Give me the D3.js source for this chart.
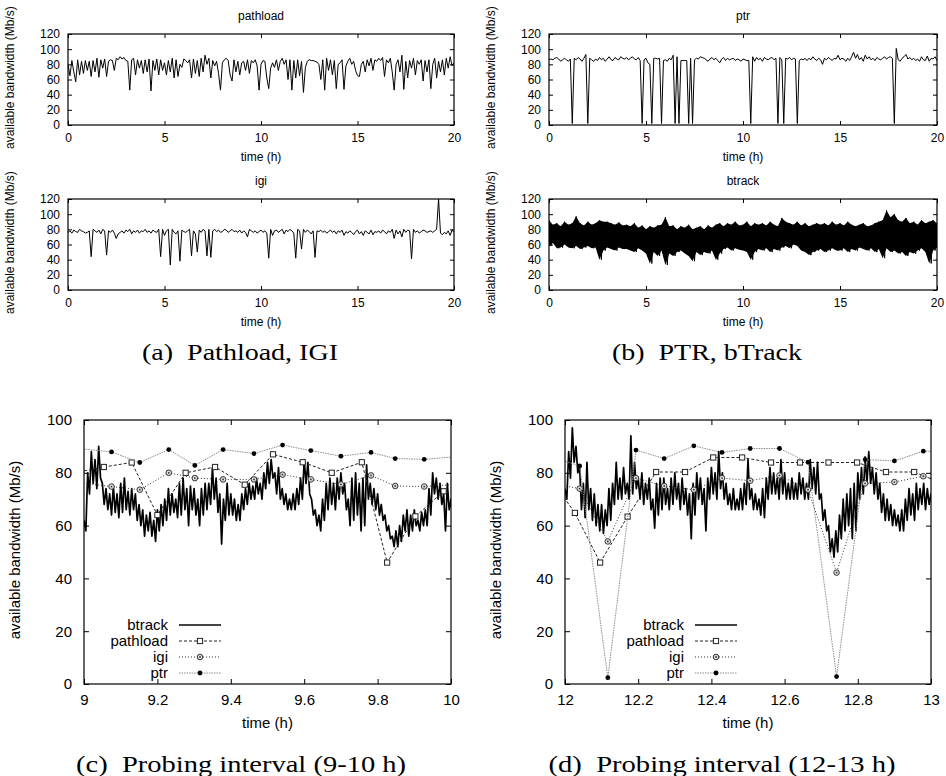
<!DOCTYPE html>
<html>
<head>
<meta charset="utf-8">
<script src="https://cdn.jsdelivr.net/npm/d3@7"></script>
<style>
  body { margin: 0; background: #fff; }
  svg text { font-family: "Liberation Sans", Arial, Helvetica, sans-serif; fill: #000; }
  svg text.caption { font-family: "Liberation Serif", "Times New Roman", serif; }
</style>
</head>
<body>
<svg id="chart" width="946" height="776"></svg>
<script>
// ---- overview data: one value every 0.1 h, one row per hour (0..19), last value at 20 h
const pathloadTop = [
  80, 65, 85, 70, 57, 86, 66, 84, 68, 85,
  72, 84, 64, 85, 70, 88, 63, 86, 75, 87,
  64, 84, 86, 85, 72, 88, 86, 90, 87, 89,
  85, 84, 46, 86, 88, 66, 86, 75, 85, 68,
  86, 70, 87, 45, 85, 72, 87, 66, 86, 72,
  82, 66, 85, 70, 88, 62, 86, 64, 80, 76,
  87, 85, 82, 86, 62, 87, 68, 85, 64, 88,
  70, 92, 80, 88, 62, 85, 78, 84, 68, 46,
  82, 86, 88, 85, 66, 58, 86, 70, 84, 66,
  82, 84, 72, 86, 68, 85, 82, 86, 78, 46,
  80, 85, 84, 62, 48, 75, 82, 76, 86, 72,
  84, 88, 80, 86, 60, 86, 46, 85, 62, 86,
  65, 84, 43, 76, 84, 86, 85, 85, 84, 83,
  80, 60, 86, 46, 88, 72, 86, 66, 85, 48,
  80, 82, 86, 47, 78, 84, 88, 80, 84, 72,
  65, 64, 80, 84, 70, 86, 78, 88, 72, 86,
  84, 88, 85, 89, 64, 86, 82, 88, 70, 46,
  80, 86, 70, 92, 47, 84, 62, 85, 75, 88,
  66, 85, 80, 86, 58, 85, 70, 86, 48, 80,
  88, 62, 84, 70, 86, 66, 88, 75, 90, 78,
  82
];
const ptrTop = [
  86, 87, 86, 88, 89, 87, 84, 86, 88, 86,
  84, 87, 2, 88, 86, 89, 87, 84, 88, 93,
  2, 88, 86, 84, 87, 85, 89, 86, 88, 84,
  87, 90, 86, 85, 89, 87, 86, 90, 88, 87,
  89, 86, 88, 90, 87, 86, 89, 85, 2, 86,
  88, 82, 80, 2, 88, 88, 87, 88, 2, 85,
  86, 84, 88, 86, 92, 2, 90, 2, 85, 85,
  85, 85, 2, 88, 2, 86, 88, 87, 90, 89,
  88, 86, 84, 87, 89, 86, 88, 85, 82, 87,
  89, 85, 88, 86, 87, 88, 85, 87, 86, 84,
  87, 86, 85, 85, 2, 90, 84, 89, 86, 88,
  84, 89, 87, 86, 88, 89, 86, 88, 2, 89,
  86, 2, 88, 87, 89, 86, 88, 87, 2, 85,
  87, 86, 88, 85, 88, 86, 90, 87, 85, 88,
  86, 80, 88, 86, 89, 87, 85, 88, 87, 92,
  86, 88, 87, 84, 88, 85, 90, 96, 88, 93,
  86, 89, 84, 92, 87, 90, 86, 88, 85, 89,
  87, 86, 88, 90, 87, 89, 90, 88, 2, 101,
  86, 84, 88, 90, 93, 87, 89, 86, 88, 85,
  87, 84, 90, 86, 85, 91, 84, 88, 87, 90,
  85
];
const igiTop = [
  76, 78, 75, 79, 77, 76, 80, 78, 77, 75,
  76, 78, 44, 80, 78, 76, 79, 74, 80, 78,
  46, 78, 76, 79, 75, 68, 74, 76, 78, 75,
  79, 77, 80, 74, 78, 76, 79, 75, 78, 77,
  80, 76, 78, 75, 79, 77, 76, 80, 44, 80,
  72, 78, 80, 33, 80, 76, 74, 78, 38, 79,
  77, 76, 78, 80, 45, 78, 74, 50, 79, 76,
  80, 78, 45, 80, 43, 78, 80, 77, 79, 76,
  77, 80, 79, 76, 78, 80, 77, 78, 76, 79,
  75, 78, 76, 70, 80, 78, 76, 78, 75, 77,
  79, 76, 78, 75, 42, 80, 72, 78, 79, 76,
  78, 80, 74, 79, 77, 80, 78, 75, 42, 80,
  78, 54, 80, 76, 79, 77, 74, 78, 43, 78,
  77, 79, 76, 78, 75, 77, 79, 76, 78, 74,
  78, 76, 79, 72, 77, 75, 78, 76, 73, 77,
  79, 74, 77, 72, 78, 76, 74, 79, 73, 77,
  76, 78, 75, 79, 77, 74, 78, 76, 80, 68,
  79, 74, 78, 70, 80, 76, 79, 78, 41, 80,
  76, 78, 75, 77, 79, 78, 76, 77, 78, 76,
  78, 80, 120, 75, 73, 76, 74, 78, 72, 79,
  76
];
// btrack overview: highest / lowest sample in each 0.2 h bin, one row per 4 hours
const btrackTopHi = [
  92, 86, 88, 84, 90,   86, 88, 97, 88, 85,   90, 86, 88, 92, 90,   90, 88, 86, 89, 85,
  86, 84, 88, 82, 85,   80, 84, 82, 85, 86,   96, 84, 85, 80, 84,   82, 86, 80, 82, 84,
  80, 85, 82, 86, 88,   84, 88, 86, 90, 85,   86, 90, 84, 88, 86,   88, 85, 90, 86, 84,
  95, 90, 88, 86, 90,   85, 88, 84, 86, 88,   86, 88, 85, 90, 86,   88, 85, 90, 86, 84,
  86, 88, 84, 85, 88,   90, 92, 105, 96, 100, 92, 90, 95, 88, 90,   86, 92, 88, 90, 92,
  88
];
const btrackTopLo = [
  58, 62, 55, 56, 60,   56, 55, 58, 54, 56,   58, 55, 56, 40, 52,   56, 54, 52, 56, 54,
  54, 52, 50, 55, 52,   48, 35, 50, 45, 52,   33, 48, 45, 50, 52,   48, 45, 38, 50, 46,
  50, 48, 52, 40, 48,   54, 56, 52, 55, 53,   52, 50, 40, 50, 54,   52, 55, 50, 54, 52,
  56, 58, 55, 60, 58,   52, 50, 46, 50, 52,   54, 50, 52, 55, 52,   52, 55, 50, 54, 52,
  56, 54, 52, 55, 50,   54, 42, 55, 50, 52,   48, 50, 45, 50, 48,   52, 55, 50, 35, 52,
  56
];
const hourTicks = [0, 5, 10, 15, 20];
const bwTicksTop = [0, 20, 40, 60, 80, 100, 120];

// ---- probing interval 9-10 h
// btrack: highest / lowest sample in each 0.01 h bin, one row per 0.1 h
const btrackCHi = [
  62, 80, 88, 85, 90, 76, 74, 72, 75, 72,
  76, 78, 73, 74, 72, 68, 66, 64, 65, 62,
  66, 68, 70, 74, 72, 70, 76, 78, 74, 75,
  74, 70, 74, 76, 76, 82, 78, 72, 70, 76,
  72, 70, 68, 72, 74, 76, 75, 78, 76, 80,
  84, 85, 80, 82, 74, 72, 70, 72, 74, 78,
  85, 84, 70, 66, 64, 70, 76, 78, 76, 78,
  80, 76, 70, 78, 80, 76, 78, 83, 76, 74,
  72, 68, 64, 60, 56, 58, 60, 64, 66, 64,
  66, 62, 65, 66, 74, 80, 78, 76, 72, 76,
  70
];
const btrackCLo = [
  58, 72, 76, 74, 78, 68, 66, 64, 65, 63,
  65, 66, 64, 66, 62, 60, 56, 58, 56, 54,
  58, 60, 62, 64, 65, 63, 64, 66, 60, 66,
  64, 60, 64, 66, 68, 70, 65, 53, 62, 64,
  64, 62, 62, 66, 68, 70, 70, 72, 70, 74,
  76, 78, 72, 70, 68, 66, 66, 66, 68, 70,
  76, 72, 64, 60, 58, 62, 66, 68, 66, 70,
  72, 66, 60, 62, 64, 58, 60, 70, 68, 66,
  64, 62, 58, 55, 52, 52, 54, 58, 56, 58,
  60, 58, 60, 60, 64, 72, 70, 68, 58, 66,
  62
];
const pathloadCTime = [8.974, 9.054, 9.130, 9.200, 9.277, 9.357, 9.438, 9.515, 9.596, 9.675, 9.757, 9.826, 9.903, 9.980, 10.06];
const pathloadCBw   = [80, 82.2, 83.9, 64, 80, 82.2, 75.5, 87, 84, 80, 84, 46, 63.5, 73, 70];
const probeCTime    = [8.998, 9.075, 9.152, 9.231, 9.302, 9.379, 9.463, 9.541, 9.618, 9.700, 9.782, 9.848, 9.927, 10.004];
const igiCBw        = [76, 74.8, 73.6, 80, 78, 77.5, 77.5, 79.3, 77.5, 75.6, 79, 75, 74.8, 75.5];
const ptrCBw        = [89, 87.9, 83.9, 88.8, 82.8, 88.8, 87.3, 90.5, 88.4, 86.3, 87.7, 85.4, 85.1, 86];
const ticksC = [9, 9.2, 9.4, 9.6, 9.8, 10];

// ---- probing interval 12-13 h
const btrackDHi = [
  74, 88, 97, 90, 82, 76, 84, 74, 72, 68,
  68, 66, 74, 76, 84, 78, 82, 76, 94, 84,
  78, 80, 76, 78, 70, 76, 78, 78, 74, 78,
  80, 76, 78, 74, 72, 76, 80, 78, 74, 78,
  82, 80, 88, 80, 76, 72, 74, 70, 74, 76,
  85, 74, 72, 70, 74, 78, 82, 80, 78, 85,
  80, 76, 78, 76, 80, 78, 76, 85, 82, 84,
  72, 66, 60, 55, 58, 64, 70, 72, 74, 76,
  80, 82, 86, 88, 82, 80, 76, 72, 70, 68,
  66, 64, 66, 70, 74, 72, 76, 74, 76, 74,
  72
];
const btrackDLo = [
  70, 78, 84, 80, 66, 63, 66, 62, 60, 58,
  57, 60, 62, 68, 70, 70, 72, 70, 72, 74,
  70, 68, 70, 66, 59, 64, 66, 68, 66, 68,
  70, 66, 68, 64, 55, 64, 70, 68, 58, 70,
  72, 70, 74, 70, 68, 66, 66, 66, 66, 68,
  70, 66, 66, 64, 63, 70, 72, 72, 70, 72,
  70, 70, 70, 70, 72, 70, 70, 74, 72, 70,
  62, 58, 50, 48, 50, 55, 58, 60, 55, 58,
  70, 72, 76, 76, 72, 70, 65, 62, 62, 60,
  60, 58, 58, 62, 64, 62, 66, 68, 66, 68,
  68
];
const pathloadDTime = [11.950, 12.027, 12.096, 12.171, 12.249, 12.328, 12.405, 12.484, 12.563, 12.642, 12.720, 12.798, 12.877, 12.954, 13.03];
const pathloadDBw   = [80, 64.8, 46, 63.4, 80.3, 80.3, 85.8, 85.8, 83.9, 83.9, 83.9, 83.9, 80.3, 80.3, 76];
const probeDTime    = [11.963, 12.040, 12.117, 12.194, 12.271, 12.352, 12.429, 12.506, 12.586, 12.664, 12.742, 12.820, 12.900, 12.979, 13.056];
const igiDBw        = [76, 74, 54, 78, 75, 73.6, 78, 77, 79, 73.6, 42.2, 76, 76.5, 78.7, 76];
const ptrDBw        = [86, 82.6, 2.4, 88.6, 85.4, 90.2, 87.7, 89.2, 89.2, 84, 2.8, 85, 84.5, 88.2, 88];
const ticksD = [12, 12.2, 12.4, 12.6, 12.8, 13];
const bwTicksZoom = [0, 20, 40, 60, 80, 100];

const legendNames = ["btrack", "pathload", "igi", "ptr"];

const svg = d3.select("#chart");
const fmt = d3.format("~g");
const SANS = '"Liberation Sans", Arial, Helvetica, sans-serif';
let clipCount = 0;

// gnuplot style box: ticks inside on all four sides, labels on bottom/left
function frame(g, x, y, xTicks, yTicks, o) {
  const [l, r] = x.range();
  const [b, t] = y.range();
  g.append("g").attr("transform", `translate(0,${b})`)
    .call(d3.axisBottom(x).tickValues(xTicks).tickFormat(fmt).tickSize(-o.tick).tickPadding(o.xPad));
  g.append("g").attr("transform", `translate(0,${t})`)
    .call(d3.axisTop(x).tickValues(xTicks).tickFormat("").tickSize(-o.tick));
  g.append("g").attr("transform", `translate(${l},0)`)
    .call(d3.axisLeft(y).tickValues(yTicks).tickFormat(fmt).tickSize(-o.tick).tickPadding(o.yPad));
  g.append("g").attr("transform", `translate(${r},0)`)
    .call(d3.axisRight(y).tickValues(yTicks).tickFormat("").tickSize(-o.tick));
  g.selectAll(".domain").remove();
  g.selectAll(".tick line").attr("stroke", "#000").attr("stroke-width", 1);
  g.selectAll("g").attr("font-family", SANS).attr("font-size", o.font);
  g.selectAll(".tick text").attr("fill", "#000");
  g.append("rect")
    .attr("x", l).attr("y", t).attr("width", r - l).attr("height", b - t)
    .attr("fill", "none").attr("stroke", "#000").attr("stroke-width", 1.2);

  // axis titles
  g.append("text")
    .attr("x", (l + r) / 2).attr("y", o.xTitleY)
    .attr("text-anchor", "middle").attr("font-size", o.titleFont)
    .text("time (h)");
  g.append("text")
    .attr("transform", `translate(${o.yTitleX},${(t + b) / 2 - 2}) rotate(-90)`)
    .attr("text-anchor", "middle").attr("font-size", o.titleFont)
    .text("available bandwidth (Mb/s)");
}

function addClip(x, y) {
  const id = "clip" + (clipCount++);
  const [l, r] = x.range();
  const [b, t] = y.range();
  svg.append("clipPath").attr("id", id)
    .append("rect").attr("x", l).attr("y", t).attr("width", r - l).attr("height", b - t);
  return `url(#${id})`;
}

// btrack drawn as a zigzag through bin maxima and minima
function zigzag(hi, lo, start, step) {
  const pts = [];
  hi.forEach((h, k) => {
    pts.push([start + k * step, h]);
    pts.push([start + k * step + step / 2, lo[k]]);
  });
  return pts;
}

// ---- overview panels (20 h)
function overview(cfg) {
  const x = d3.scaleLinear().domain([0, 20]).range([cfg.left, cfg.right]);
  const y = d3.scaleLinear().domain([0, 120]).range([cfg.bottom, cfg.top]);
  const g = svg.append("g");
  const clip = addClip(x, y);
  const line = d3.line().x(d => x(d[0])).y(d => y(d[1]));

  g.append("text")
    .attr("x", (cfg.left + cfg.right) / 2).attr("y", cfg.top - 14)
    .attr("text-anchor", "middle").attr("font-size", 12)
    .text(cfg.title);

  if (cfg.values) {
    g.append("path")
      .attr("clip-path", clip)
      .attr("d", line(cfg.values.map((v, i) => [i / 10, v])))
      .attr("fill", "none").attr("stroke", "#000")
      .attr("stroke-width", 1)
      .attr("stroke-linejoin", "round");
  } else {
    // solid band between the bin extremes, spikes on top of it
    const area = d3.area()
      .x((d, k) => x(k * 0.2))
      .y0((d, k) => y(cfg.lo[k]))
      .y1(d => y(d));
    g.append("path")
      .attr("clip-path", clip)
      .attr("d", area(cfg.hi))
      .attr("fill", "#000");
    g.append("path")
      .attr("clip-path", clip)
      .attr("d", line(zigzag(cfg.hi, cfg.lo, 0, 0.2)))
      .attr("fill", "none").attr("stroke", "#000")
      .attr("stroke-width", 1);
  }

  frame(g, x, y, hourTicks, bwTicksTop, {
    tick: 4, xPad: 8, yPad: 8, font: 12, titleFont: 12,
    xTitleY: cfg.bottom + 36, yTitleX: cfg.left - 54
  });
}

overview({ title: "pathload", values: pathloadTop, left: 68, right: 454, top: 34, bottom: 125 });
overview({ title: "ptr", values: ptrTop, left: 549, right: 937, top: 34, bottom: 125 });
overview({ title: "igi", values: igiTop, left: 68, right: 454, top: 199, bottom: 290 });
overview({ title: "btrack", hi: btrackTopHi, lo: btrackTopLo, left: 549, right: 937, top: 199, bottom: 290 });

// ---- probing interval panels (1 h)
const styles = {
  btrack:   { stroke: "#000", dash: null, width: 1.7 },
  pathload: { stroke: "#222", dash: "3,2", width: 1 },
  igi:      { stroke: "#333", dash: "1,2", width: 1 },
  ptr:      { stroke: "#8c8c8c", dash: "1.5,1", width: 1 }
};

function marker(sel, name, cx, cy) {
  if (name === "pathload") {
    sel.append("rect").attr("x", cx - 2.6).attr("y", cy - 2.6).attr("width", 5.2).attr("height", 5.2)
      .attr("fill", "#fff").attr("stroke", "#222").attr("stroke-width", 1);
  } else if (name === "igi") {
    sel.append("circle").attr("cx", cx).attr("cy", cy).attr("r", 2.8)
      .attr("fill", "#ddd").attr("stroke", "#333").attr("stroke-width", 1);
    sel.append("circle").attr("cx", cx).attr("cy", cy).attr("r", 0.9).attr("fill", "#333");
  } else if (name === "ptr") {
    sel.append("circle").attr("cx", cx).attr("cy", cy).attr("r", 2.4).attr("fill", "#000");
  }
}

function probing(cfg) {
  const x = d3.scaleLinear().domain(cfg.domain).range([cfg.left, cfg.right]);
  const y = d3.scaleLinear().domain([0, 100]).range([cfg.bottom, cfg.top]);
  const g = svg.append("g");
  const clip = addClip(x, y);
  const line = d3.line().x(d => x(d[0])).y(d => y(d[1]));

  const series = [
    { name: "btrack", pts: zigzag(cfg.btrackHi, cfg.btrackLo, cfg.domain[0], 0.01) },
    { name: "pathload", pts: d3.zip(cfg.pathloadTime, cfg.pathloadBw) },
    { name: "igi", pts: d3.zip(cfg.probeTime, cfg.igiBw) },
    { name: "ptr", pts: d3.zip(cfg.probeTime, cfg.ptrBw) }
  ];

  series.forEach(s => {
    const st = styles[s.name];
    g.append("path")
      .attr("clip-path", clip)
      .attr("d", line(s.pts))
      .attr("fill", "none").attr("stroke", st.stroke)
      .attr("stroke-width", st.width)
      .attr("stroke-dasharray", st.dash)
      .attr("stroke-linejoin", "round");
    if (s.name !== "btrack") {
      const m = g.append("g");
      s.pts.filter(d => d[0] >= cfg.domain[0] && d[0] <= cfg.domain[1])
        .forEach(d => marker(m, s.name, x(d[0]), y(d[1])));
    }
  });

  frame(g, x, y, cfg.ticks, bwTicksZoom, {
    tick: 5, xPad: 10, yPad: 12, font: 15, titleFont: 15,
    xTitleY: cfg.bottom + 44, yTitleX: cfg.left - 64
  });

  // legend
  const lg = g.append("g");
  legendNames.forEach((name, i) => {
    const cy = cfg.legendY + i * 16;
    const st = styles[name];
    lg.append("text")
      .attr("x", cfg.legendX).attr("y", cy + 5)
      .attr("text-anchor", "end").attr("font-size", 15)
      .text(name);
    lg.append("line")
      .attr("x1", cfg.legendX + 11).attr("x2", cfg.legendX + 53)
      .attr("y1", cy).attr("y2", cy)
      .attr("stroke", name === "btrack" ? "#444" : st.stroke)
      .attr("stroke-width", name === "btrack" ? 2 : 1)
      .attr("stroke-dasharray", st.dash);
    marker(lg, name, cfg.legendX + 32, cy);
  });
}

probing({
  domain: [9, 10], ticks: ticksC, left: 84, right: 451, top: 420, bottom: 684,
  btrackHi: btrackCHi, btrackLo: btrackCLo,
  pathloadTime: pathloadCTime, pathloadBw: pathloadCBw,
  probeTime: probeCTime, igiBw: igiCBw, ptrBw: ptrCBw,
  legendX: 168, legendY: 625
});
probing({
  domain: [12, 13], ticks: ticksD, left: 565, right: 931, top: 420, bottom: 684,
  btrackHi: btrackDHi, btrackLo: btrackDLo,
  pathloadTime: pathloadDTime, pathloadBw: pathloadDBw,
  probeTime: probeDTime, igiBw: igiDBw, ptrBw: ptrDBw,
  legendX: 684, legendY: 625
});

// ---- sub-figure captions
const captions = [
  { text: "(a)  Pathload, IGI", x: 240, y: 360, w: 196 },
  { text: "(b)  PTR, bTrack", x: 707, y: 360, w: 190 },
  { text: "(c)  Probing interval (9-10 h)", x: 241, y: 772, w: 330 },
  { text: "(d)  Probing interval (12-13 h)", x: 722, y: 772, w: 347 }
];
svg.selectAll("text.caption")
  .data(captions)
  .join("text")
  .attr("class", "caption")
  .attr("x", d => d.x - d.w / 2).attr("y", d => d.y)
  .attr("font-size", 24)
  .attr("textLength", d => d.w)
  .attr("lengthAdjust", "spacingAndGlyphs")
  .style("white-space", "pre")
  .text(d => d.text);
</script>
</body>
</html>
